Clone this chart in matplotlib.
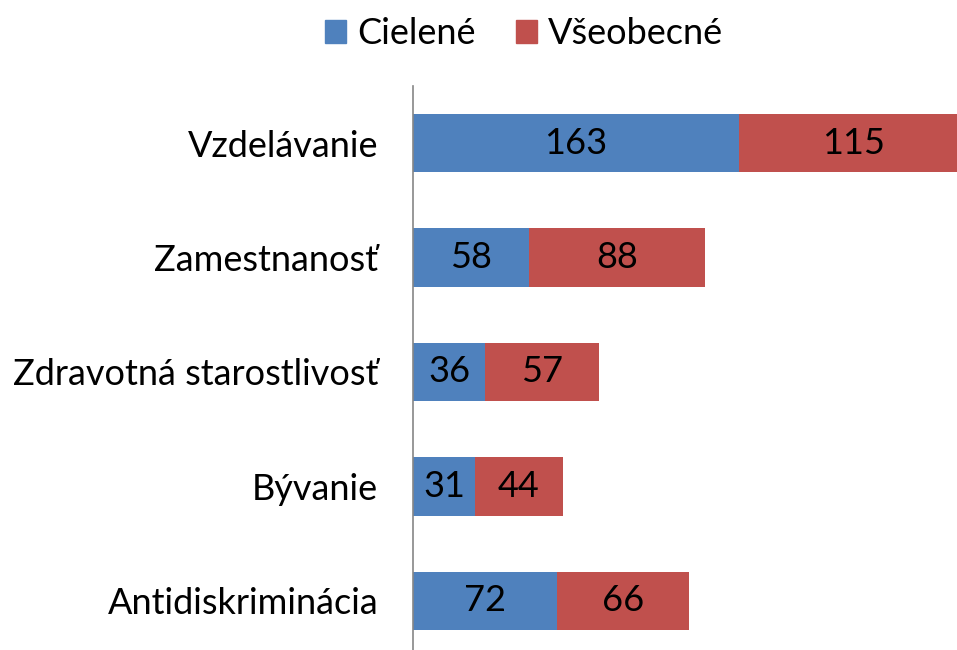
import matplotlib.pyplot as plt
from matplotlib.patches import Patch

# Data
categories = ['Vzdelávanie', 'Zamestnanosť', 'Zdravotná starostlivosť', 'Bývanie', 'Antidiskriminácia']
cielene = [163, 58, 36, 31, 72]
vseobecne = [115, 88, 57, 44, 66]
series_names = ['Cielené', 'Všeobecné']

blue = '#4F81BD'
red = '#C0504D'

plt.rcParams['font.family'] = ['Lato', 'DejaVu Sans']

fig = plt.figure(figsize=(9.57, 6.5), dpi=100)
ax = fig.add_axes([413 / 957, -8 / 650, 544 / 957, 572 / 650])

y = list(range(len(categories)))
b1 = ax.barh(y, cielene, height=0.51, color=blue)
b2 = ax.barh(y, vseobecne, left=cielene, height=0.51, color=red)

for vals, lefts in [(cielene, [0] * len(cielene)), (vseobecne, cielene)]:
    for yi, v, l in zip(y, vals, lefts):
        ax.text(l + v / 2, yi, str(v), ha='center', va='center', fontsize=26, color='black')

ax.set_xlim(0, 272)
ax.set_ylim(len(categories) - 0.5, -0.5)
ax.set_yticks(y)
ax.set_yticklabels(categories, fontsize=26)
ax.tick_params(axis='y', length=0, pad=25)
ax.set_xticks([])
for s in ['top', 'right', 'bottom']:
    ax.spines[s].set_visible(False)
ax.spines['left'].set_color('#868686')
ax.spines['left'].set_linewidth(1.2)

handles = [Patch(color=blue), Patch(color=red)]
fig.legend(handles, series_names, loc='center', bbox_to_anchor=(524 / 957, 1 - 34 / 650),
           ncol=2, frameon=False, fontsize=26, handlelength=0.6, handleheight=0.6,
           handletextpad=0.3, columnspacing=1.1)

fig.savefig('out.png', dpi=100)
